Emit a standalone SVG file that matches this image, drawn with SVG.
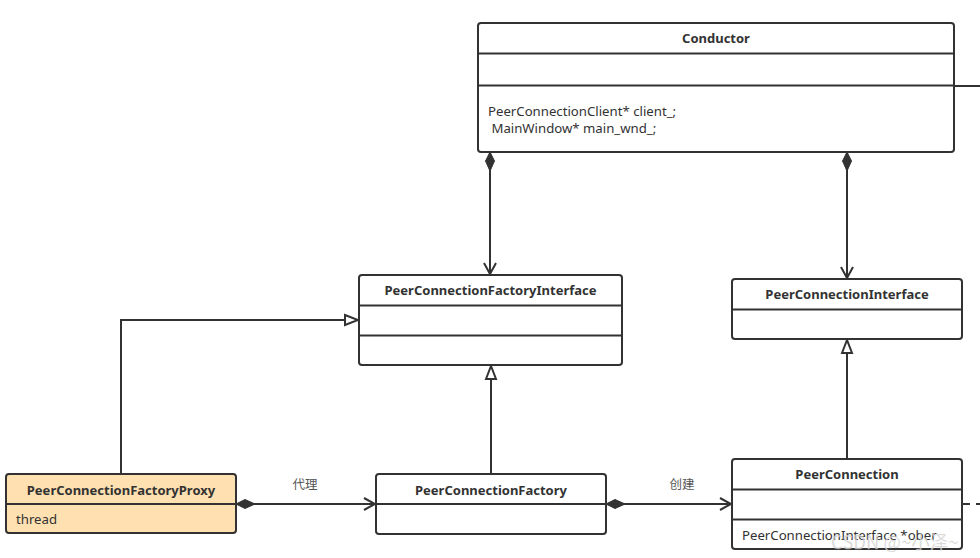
<svg xmlns="http://www.w3.org/2000/svg" width="980" height="558" viewBox="0 0 980 558">
<style>
.box{fill:#fff;stroke:#323232;stroke-width:2}
.div{stroke:#323232;stroke-width:2}
.t{font-family:"Noto Sans","Noto Sans CJK SC",sans-serif;font-size:13px;font-weight:bold;fill:#323232;text-anchor:middle}
.a{font-family:"Noto Sans","Noto Sans CJK SC",sans-serif;font-size:13.2px;fill:#323232}
.lbl{font-family:"Noto Sans CJK SC","Noto Sans",sans-serif;font-size:12.5px;fill:#555;text-anchor:middle}
.ln{fill:none;stroke:#323232;stroke-width:2}
</style>
<defs>
<marker id="open" markerWidth="14" markerHeight="14" refX="12" refY="7" orient="auto" markerUnits="userSpaceOnUse">
<path d="M1,1 L12,7 L1,13" fill="none" stroke="#323232" stroke-width="2"/>
</marker>
<marker id="tri" markerWidth="16" markerHeight="14" refX="14" refY="7" orient="auto" markerUnits="userSpaceOnUse">
<path d="M1,2 L14,7 L1,12 Z" fill="#fff" stroke="#323232" stroke-width="2"/>
</marker>
<marker id="dia" markerWidth="24" markerHeight="12" refX="1" refY="6" orient="auto" markerUnits="userSpaceOnUse">
<path d="M1,6 L10,1.5 L20,6 L10,10.5 Z" fill="#323232" stroke="#323232" stroke-width="1"/>
</marker>
</defs>

<g id="connectors">
<path class="ln" d="M490,152 L490,274" marker-start="url(#dia)" marker-end="url(#open)"/>
<path class="ln" d="M847,152 L847,278" marker-start="url(#dia)" marker-end="url(#open)"/>
<path class="ln" d="M954,86 L980,86"/>
<path class="ln" d="M121,474 L121,320 L358,320" marker-end="url(#tri)"/>
<path class="ln" d="M491,474 L491,366" marker-end="url(#tri)"/>
<path class="ln" d="M847,459 L847,340" marker-end="url(#tri)"/>
<path class="ln" d="M236,504 L375,504" marker-start="url(#dia)" marker-end="url(#open)"/>
<path class="ln" d="M606,504 L731,504" marker-start="url(#dia)" marker-end="url(#open)"/>
<path class="ln" d="M962,504 L980,504" stroke-dasharray="8,6"/>
<text class="lbl" x="305" y="489">代理</text>
<text class="lbl" x="682" y="489">创建</text>
</g>

<g id="conductor">
<rect class="box" x="478" y="23" width="476" height="129" rx="3"/>
<line class="div" x1="478" y1="53.5" x2="954" y2="53.5"/>
<line class="div" x1="478" y1="85.5" x2="954" y2="85.5"/>
<text class="t" x="716" y="43">Conductor</text>
<text class="a" x="488" y="116">PeerConnectionClient* client_;</text>
<text class="a" x="488" y="133" xml:space="preserve"> MainWindow* main_wnd_;</text>
</g>

<g id="pcfi">
<rect class="box" x="359" y="275" width="263" height="90" rx="3"/>
<line class="div" x1="359" y1="305.5" x2="622" y2="305.5"/>
<line class="div" x1="359" y1="335.5" x2="622" y2="335.5"/>
<text class="t" x="490.5" y="295">PeerConnectionFactoryInterface</text>
</g>

<g id="pci">
<rect class="box" x="732" y="279" width="230" height="60" rx="3"/>
<line class="div" x1="732" y1="309.5" x2="962" y2="309.5"/>
<text class="t" x="847" y="299">PeerConnectionInterface</text>
</g>

<g id="proxy">
<rect x="6" y="474" width="230" height="59" rx="3" fill="#ffe0b0" stroke="#323232" stroke-width="2"/>
<line class="div" x1="6" y1="504" x2="236" y2="504"/>
<text class="t" x="121" y="495">PeerConnectionFactoryProxy</text>
<text class="a" x="16" y="524">thread</text>
</g>

<g id="pcf">
<rect class="box" x="376" y="474" width="230" height="60" rx="3"/>
<line class="div" x1="376" y1="504" x2="606" y2="504"/>
<text class="t" x="491" y="495">PeerConnectionFactory</text>
</g>

<g id="pc">
<rect class="box" x="732" y="459" width="230" height="90" rx="3"/>
<line class="div" x1="732" y1="489.5" x2="962" y2="489.5"/>
<line class="div" x1="732" y1="519.5" x2="962" y2="519.5"/>
<text class="t" x="847" y="479">PeerConnection</text>
<text class="a" x="742" y="540">PeerConnectionInterface *ober</text>
</g>

<text x="831" y="549" font-family="Noto Sans CJK SC, Noto Sans, sans-serif" font-size="18.5" fill="#c8c8c8" fill-opacity="0.75" stroke="#ffffff" stroke-opacity="0.4" stroke-width="0.5">CSDN @~小泽~</text>
</svg>
